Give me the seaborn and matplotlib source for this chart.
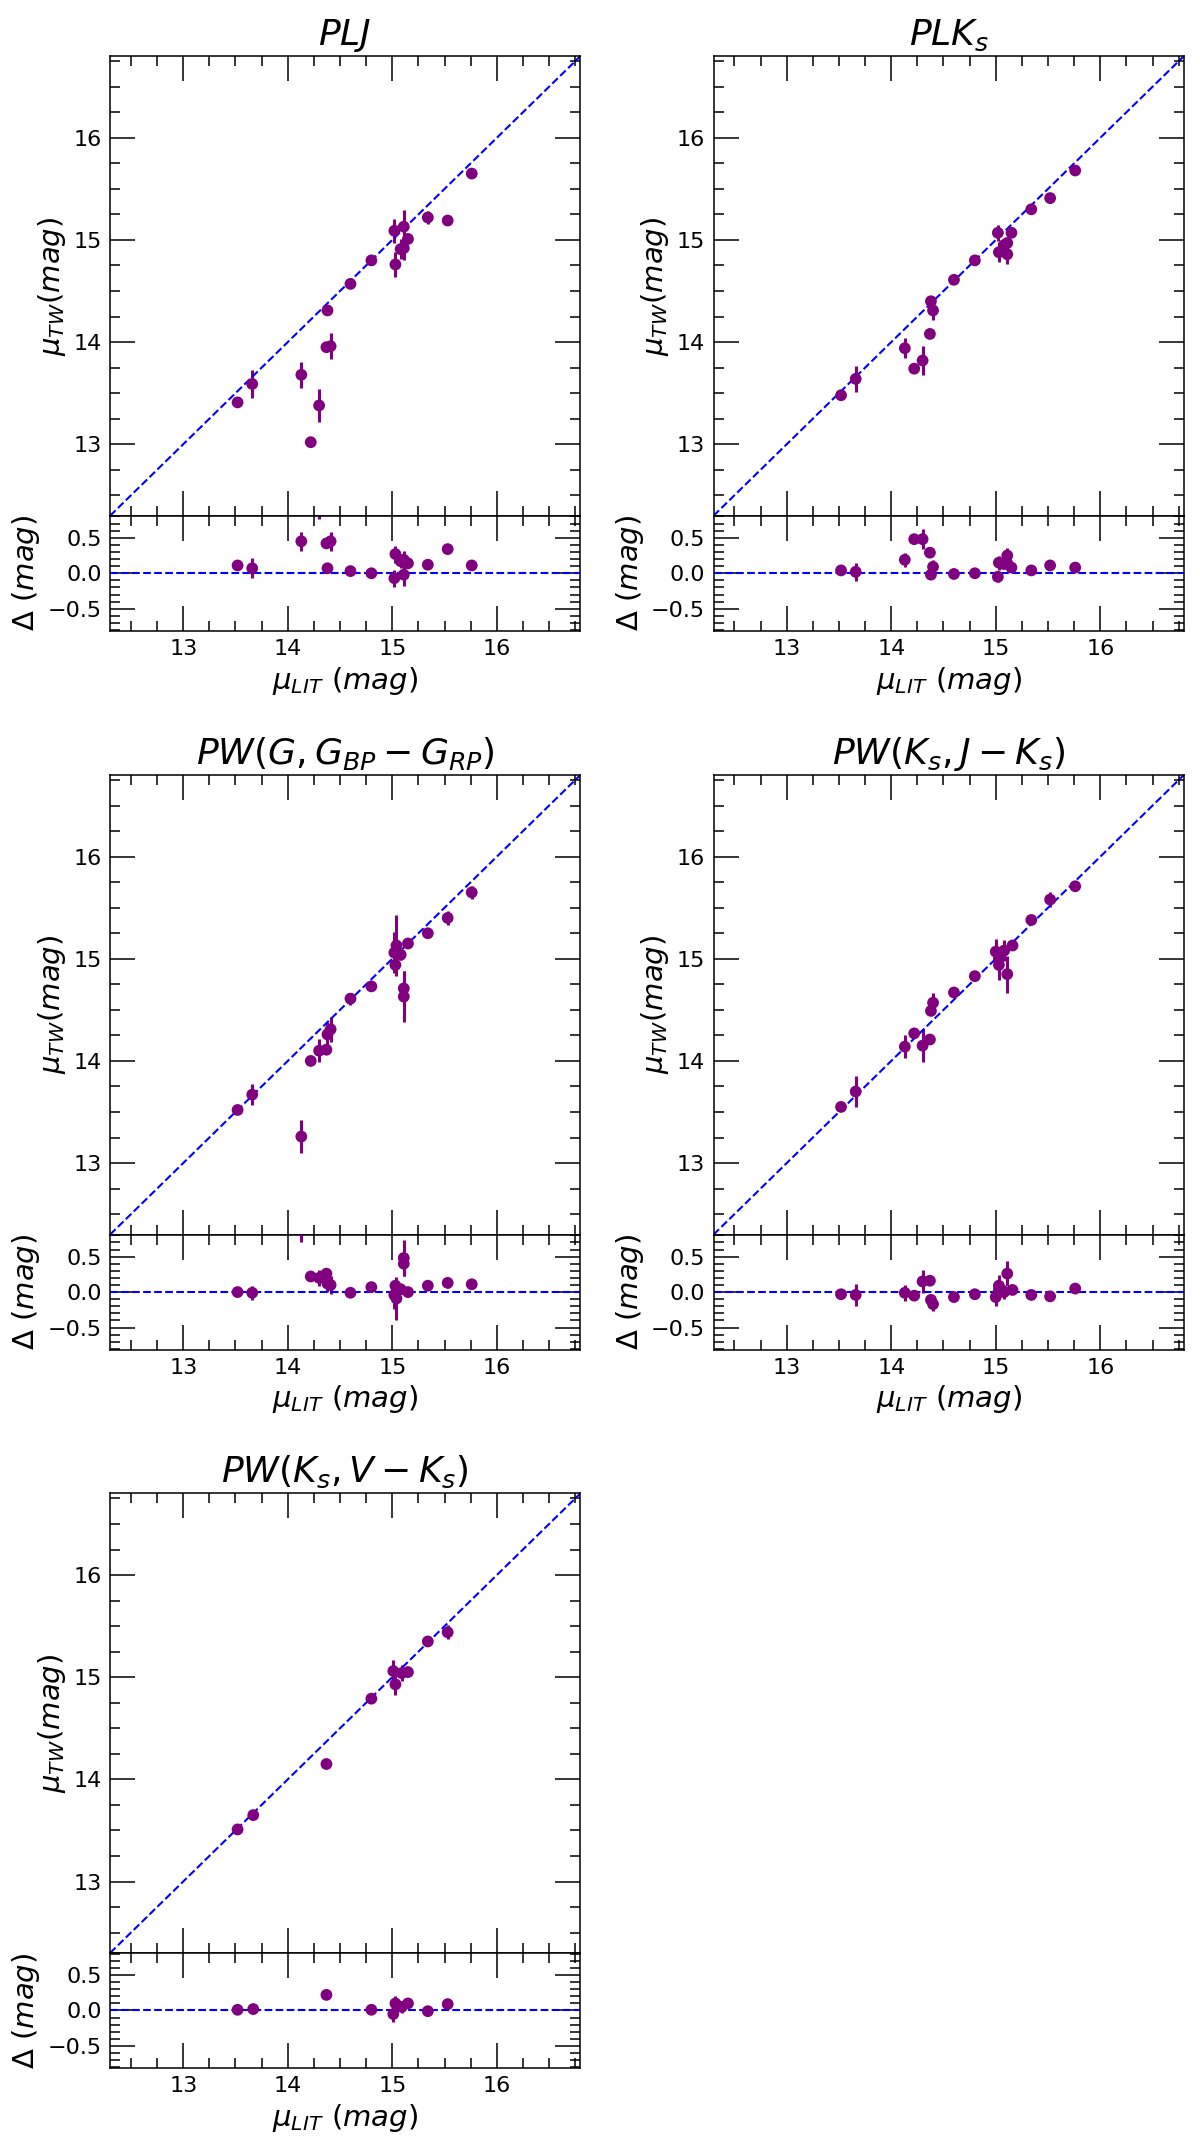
import numpy as np
import seaborn as sns
import matplotlib.pyplot as plt
from matplotlib.ticker import MultipleLocator

sns.set_style("ticks")
plt.rcParams['font.family'] = ['DejaVu Sans']
plt.rcParams['mathtext.fontset'] = 'dejavusans'
for k in ['text.color', 'axes.labelcolor', 'xtick.color', 'ytick.color', 'axes.edgecolor']:
    plt.rcParams[k] = 'black'

# PL(J)
x_plj = [13.52, 13.66, 14.13, 14.22, 14.30, 14.37, 14.38, 14.41, 14.60, 14.80,
         15.02, 15.03, 15.08, 15.11, 15.11, 15.15, 15.34, 15.53, 15.76]
y_plj = [13.41, 13.59, 13.68, 13.02, 13.38, 13.95, 14.31, 13.96, 14.57, 14.80,
         15.09, 14.76, 14.91, 15.13, 14.92, 15.01, 15.22, 15.19, 15.65]
e_plj = [0.03, 0.14, 0.13, 0.02, 0.16, 0.05, 0.03, 0.13, 0.03, 0.03,
         0.12, 0.12, 0.10, 0.16, 0.12, 0.04, 0.06, 0.03, 0.03]

# PL(Ks)
x_plk = [13.52, 13.66, 14.13, 14.22, 14.30, 14.37, 14.38, 14.40, 14.60, 14.80,
         15.02, 15.03, 15.08, 15.11, 15.11, 15.15, 15.34, 15.52, 15.76]
y_plk = [13.48, 13.64, 13.94, 13.74, 13.82, 14.08, 14.40, 14.31, 14.61, 14.80,
         15.07, 14.88, 14.95, 14.86, 14.97, 15.07, 15.30, 15.41, 15.68]
e_plk = [0.03, 0.13, 0.10, 0.03, 0.14, 0.03, 0.03, 0.09, 0.03, 0.03,
         0.08, 0.10, 0.06, 0.10, 0.05, 0.04, 0.03, 0.05, 0.03]

# PW(G, BP-RP)
x_pwg = [13.52, 13.66, 14.13, 14.22, 14.30, 14.37, 14.38, 14.41, 14.60, 14.80,
         15.02, 15.03, 15.04, 15.08, 15.11, 15.11, 15.15, 15.34, 15.53, 15.76]
y_pwg = [13.52, 13.67, 13.26, 14.00, 14.10, 14.11, 14.26, 14.31, 14.61, 14.73,
         15.06, 14.94, 15.13, 15.04, 14.71, 14.63, 15.15, 15.25, 15.40, 15.65]
e_pwg = [0.03, 0.10, 0.16, 0.03, 0.11, 0.03, 0.12, 0.12, 0.06, 0.03,
         0.20, 0.05, 0.30, 0.05, 0.17, 0.25, 0.03, 0.03, 0.07, 0.06]

# PW(Ks, J-Ks)
x_pwjk = [13.52, 13.66, 14.13, 14.22, 14.30, 14.37, 14.38, 14.40, 14.60, 14.80,
          15.00, 15.03, 15.03, 15.08, 15.11, 15.16, 15.34, 15.52, 15.76]
y_pwjk = [13.55, 13.70, 14.14, 14.27, 14.15, 14.21, 14.49, 14.57, 14.67, 14.83,
          15.07, 15.00, 14.94, 15.08, 14.85, 15.13, 15.38, 15.58, 15.71]
e_pwjk = [0.03, 0.15, 0.11, 0.03, 0.16, 0.03, 0.04, 0.10, 0.03, 0.03,
          0.12, 0.12, 0.15, 0.10, 0.18, 0.04, 0.03, 0.07, 0.03]

# PW(Ks, V-Ks)
x_pwvk = [13.52, 13.67, 14.37, 14.80, 15.01, 15.03, 15.09, 15.15, 15.34, 15.53]
y_pwvk = [13.51, 13.65, 14.15, 14.79, 15.06, 14.93, 15.04, 15.05, 15.35, 15.44]
e_pwvk = [0.03, 0.03, 0.03, 0.03, 0.11, 0.10, 0.08, 0.03, 0.03, 0.07]

titles = [r'$PLJ$', r'$PLK_s$', r'$PW(G,G_{BP}-G_{RP})$',
          r'$PW(K_s,J-K_s)$', r'$PW(K_s,V-K_s)$']
panels = [(x_plj, y_plj, e_plj), (x_plk, y_plk, e_plk), (x_pwg, y_pwg, e_pwg),
          (x_pwjk, y_pwjk, e_pwjk), (x_pwvk, y_pwvk, e_pwvk)]

lims = (12.3, 16.8)
rlim = (-0.81, 0.81)
col = 'purple'

fig = plt.figure(figsize=(12, 21.49), dpi=100)
lefts = [0.0917, 0.5946]
w = 0.392
main_bottoms = [0.760, 0.4255, 0.0912]
res_bottoms = [0.7065, 0.372, 0.0377]
h_main = 0.2139
h_res = 0.0535


def style(ax, minor_y):
    ax.xaxis.set_major_locator(MultipleLocator(1))
    ax.xaxis.set_minor_locator(MultipleLocator(0.25))
    ax.yaxis.set_minor_locator(MultipleLocator(minor_y))
    ax.tick_params(which='both', direction='in', top=True, right=True,
                   width=1.1, colors='black', labelsize=16, pad=6)
    ax.tick_params(which='major', length=18)
    ax.tick_params(which='minor', length=7.5)
    for s in ax.spines.values():
        s.set_linewidth(1.1)
        s.set_color('black')


for i, ((x, y, e), title) in enumerate(zip(panels, titles)):
    x = np.array(x)
    y = np.array(y)
    e = np.array(e)
    r, c = divmod(i, 2)
    ax = fig.add_axes([lefts[c], main_bottoms[r], w, h_main])
    axr = fig.add_axes([lefts[c], res_bottoms[r], w, h_res])

    ax.errorbar(x, y, yerr=e, fmt='none', ecolor=col, elinewidth=2.2, zorder=2)
    sns.scatterplot(x=x, y=y, ax=ax, color=col, s=72, edgecolor='none', zorder=3)
    ax.axline((lims[0], lims[0]), slope=1, color='blue', ls='--', lw=1.5)
    ax.set_xlim(lims)
    ax.set_ylim(lims)
    ax.yaxis.set_major_locator(MultipleLocator(1))
    style(ax, 0.25)
    ax.tick_params(labelbottom=False)
    ax.set_title(title, fontsize=26, pad=8)
    ax.set_ylabel(r'$\mu_{TW}(mag)$', fontsize=21)

    d = x - y
    axr.errorbar(x, d, yerr=e, fmt='none', ecolor=col, elinewidth=2.2, zorder=2)
    sns.scatterplot(x=x, y=d, ax=axr, color=col, s=72, edgecolor='none', zorder=3)
    axr.axhline(0, color='blue', ls='--', lw=1.5)
    axr.set_xlim(lims)
    axr.set_ylim(rlim)
    axr.yaxis.set_major_locator(MultipleLocator(0.5))
    style(axr, 0.1)
    axr.set_ylabel(r'$\Delta\ (mag)$', fontsize=21)
    axr.set_xlabel(r'$\mu_{LIT}\ (mag)$', fontsize=21)

fig.savefig('out.png', dpi=100)
